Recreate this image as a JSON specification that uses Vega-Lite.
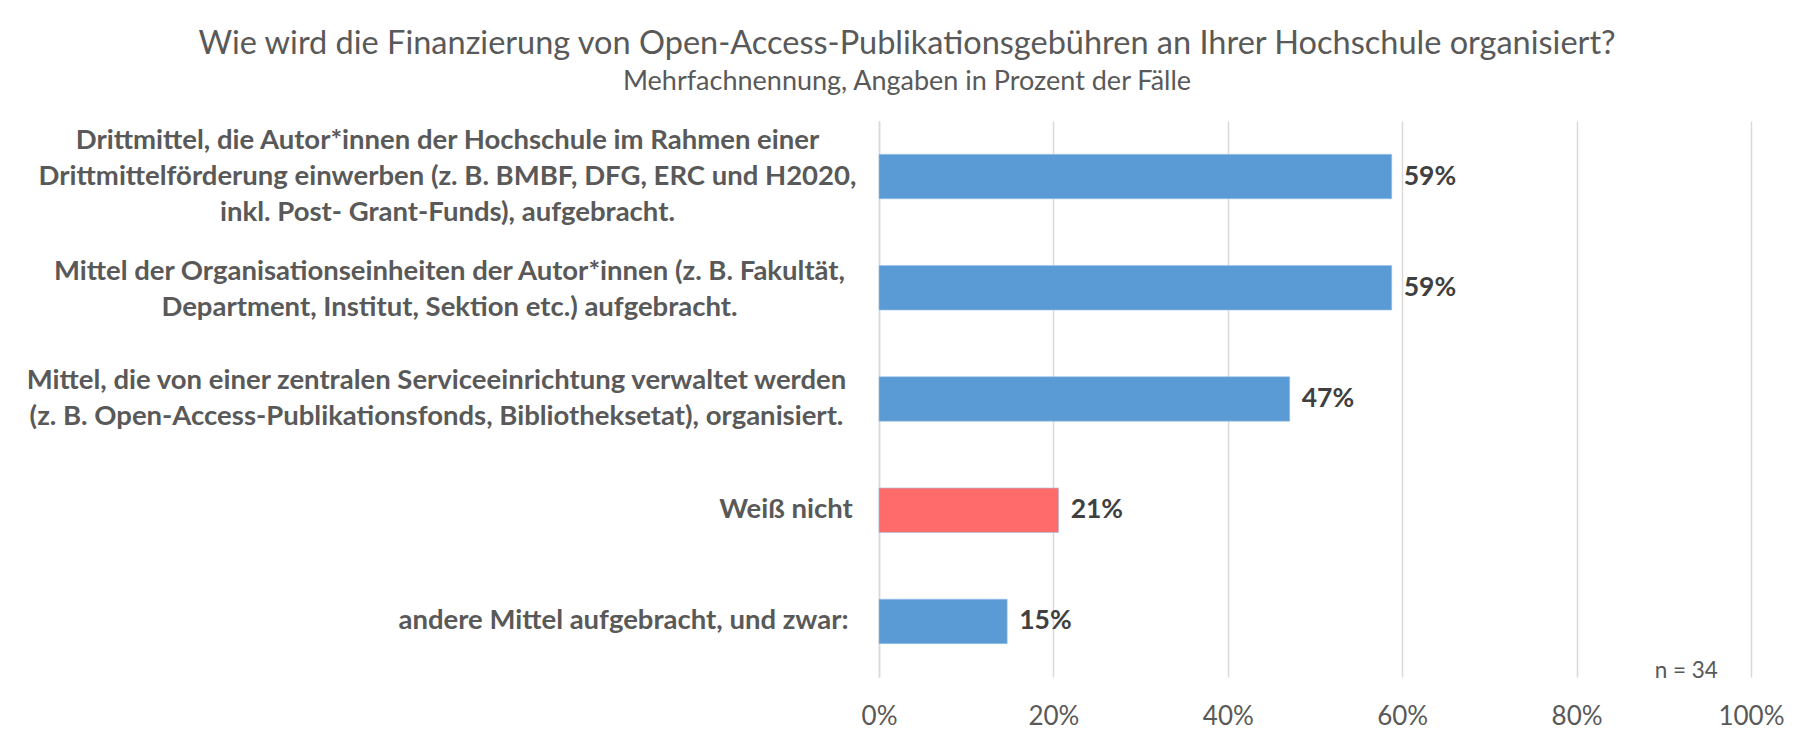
{
  "$schema": "https://vega.github.io/schema/vega-lite/v6.json",
  "width": 872,
  "height": 556,
  "autosize": {"type": "none"},
  "padding": {"left": 879, "top": 121, "right": 43, "bottom": 62},
  "background": "white",
  "config": {"view": {"stroke": null}},
  "title": {
    "text": "Wie wird die Finanzierung von Open-Access-Publikationsgebühren an Ihrer Hochschule organisiert?",
    "subtitle": "Mehrfachnennung, Angaben in Prozent der Fälle",
    "anchor": "middle",
    "frame": "group",
    "dx": -408,
    "offset": 26,
    "font": "Lato",
    "fontSize": 32.5,
    "fontWeight": "normal",
    "color": "#595959",
    "subtitleFont": "Lato",
    "subtitleFontSize": 27,
    "subtitleColor": "#595959",
    "subtitlePadding": 9
  },
  "data": {
    "values": [
      {"label": "Drittmittel, die Autor*innen der Hochschule im Rahmen einer|Drittmittelförderung einwerben (z. B. BMBF, DFG, ERC und H2020,|inkl. Post- Grant-Funds), aufgebracht.", "value": 0.588, "type": "normal"},
      {"label": "Mittel der Organisationseinheiten der Autor*innen (z. B. Fakultät,|Department, Institut, Sektion etc.) aufgebracht.", "value": 0.588, "type": "normal"},
      {"label": "Mittel, die von einer zentralen Serviceeinrichtung verwaltet werden|(z. B. Open-Access-Publikationsfonds, Bibliotheksetat), organisiert.", "value": 0.471, "type": "normal"},
      {"label": "Weiß nicht", "value": 0.206, "type": "unknown"},
      {"label": "andere Mittel aufgebracht, und zwar:", "value": 0.147, "type": "normal"}
    ]
  },
  "encoding": {
    "y": {
      "field": "label",
      "type": "nominal",
      "sort": null,
      "scale": {"paddingInner": 0.6, "paddingOuter": 0.3},
      "axis": {
        "title": null,
        "ticks": false,
        "grid": false,
        "domainColor": "#d9d9d9",
        "domainWidth": 1.5,
        "labelExpr": "split(datum.label, '|')",
        "labelAlign": "center",
        "labelBaseline": "middle",
        "labelFont": "Lato",
        "labelFontSize": 27.5,
        "labelFontWeight": "bold",
        "labelColor": "#595959",
        "labelLineHeight": 36,
        "labelLimit": 0,
        "labelOffset": {
          "condition": [
            {"test": "indexof(datum.value, 'Drittmittel,') == 0", "value": -36},
            {"test": "indexof(datum.value, 'Organisationseinheiten') >= 0", "value": -16},
            {"test": "indexof(datum.value, '|') >= 0", "value": -18}
          ],
          "value": 0
        },
        "labelPadding": {
          "condition": [
            {"test": "datum.value == 'Weiß nicht'", "value": 93.5},
            {"test": "datum.value == 'andere Mittel aufgebracht, und zwar:'", "value": 256},
            {"test": "indexof(datum.value, 'zentralen') >= 0", "value": 443},
            {"test": "indexof(datum.value, 'Organisationseinheiten') >= 0", "value": 430}
          ],
          "value": 432
        }
      }
    },
    "x": {
      "field": "value",
      "type": "quantitative",
      "scale": {"domain": [0, 1], "nice": false},
      "axis": {
        "title": null,
        "values": [0, 0.2, 0.4, 0.6, 0.8, 1],
        "format": ".0%",
        "grid": true,
        "gridColor": "#d9d9d9",
        "gridWidth": 1.5,
        "domain": false,
        "ticks": false,
        "labelFont": "Lato",
        "labelFontSize": 26,
        "labelColor": "#595959",
        "labelPadding": 26,
        "labelFlush": false
      }
    }
  },
  "layer": [
    {
      "mark": {"type": "bar", "stroke": "#9dc3e6", "strokeWidth": 1, "strokeOpacity": 0.6},
      "encoding": {
        "color": {
          "field": "type",
          "type": "nominal",
          "scale": {"domain": ["normal", "unknown"], "range": ["#5b9bd5", "#ff6b6b"]},
          "legend": null
        }
      }
    },
    {
      "mark": {"type": "text", "align": "left", "baseline": "middle", "dx": 12, "font": "Lato", "fontSize": 26.5, "fontWeight": "bold", "color": "#404040"},
      "encoding": {
        "text": {"field": "value", "type": "quantitative", "format": ".0%"}
      }
    },
    {
      "data": {"values": [{"note": "n = 34", "pos": 0.962}]},
      "mark": {"type": "text", "align": "right", "baseline": "alphabetic", "dy": 1, "font": "Lato", "fontSize": 22.5, "color": "#595959"},
      "encoding": {
        "x": {"field": "pos", "type": "quantitative"},
        "y": {"value": "height"},
        "text": {"field": "note"}
      }
    }
  ]
}
